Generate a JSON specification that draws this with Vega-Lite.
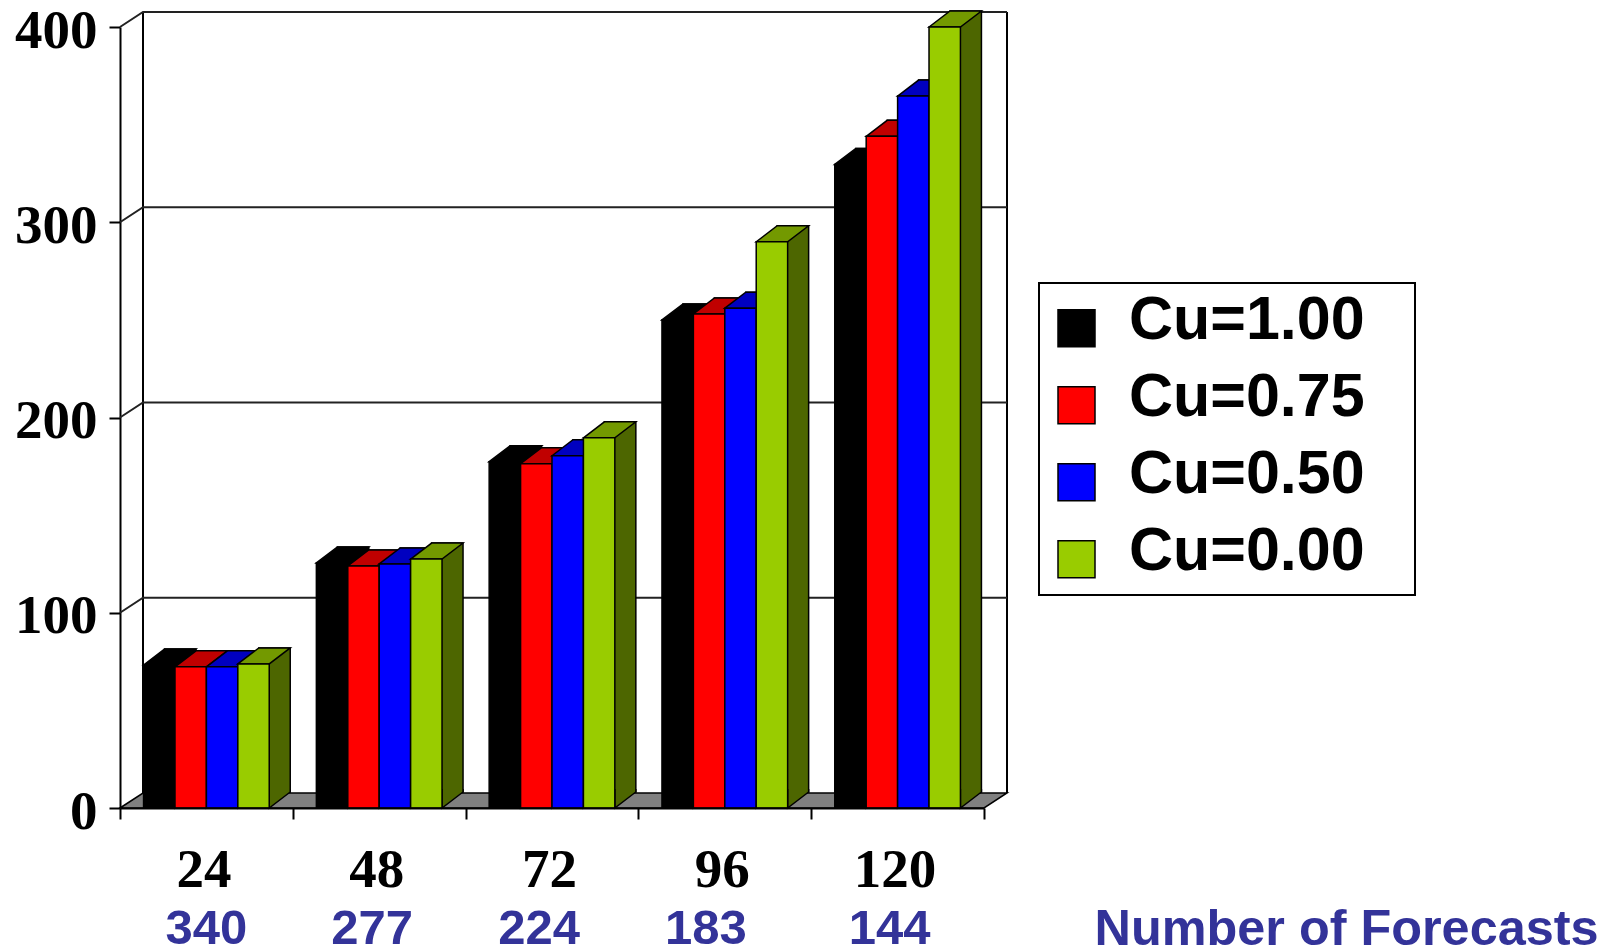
{
  "$schema": "https://vega.github.io/schema/vega-lite/v6.json",
  "width": 864,
  "height": 781,
  "autosize": "none",
  "padding": {"left": 120, "top": 27, "right": 624, "bottom": 142},
  "background": "white",
  "datasets": {
    "bars": [
      {"lead": 24, "cu": "Cu=1.00", "value": 73.2},
      {"lead": 24, "cu": "Cu=0.75", "value": 72.3},
      {"lead": 24, "cu": "Cu=0.50", "value": 72.3},
      {"lead": 24, "cu": "Cu=0.00", "value": 73.8},
      {"lead": 48, "cu": "Cu=1.00", "value": 125.5},
      {"lead": 48, "cu": "Cu=0.75", "value": 124},
      {"lead": 48, "cu": "Cu=0.50", "value": 125},
      {"lead": 48, "cu": "Cu=0.00", "value": 127.5},
      {"lead": 72, "cu": "Cu=1.00", "value": 177.4},
      {"lead": 72, "cu": "Cu=0.75", "value": 176.3},
      {"lead": 72, "cu": "Cu=0.50", "value": 180.4},
      {"lead": 72, "cu": "Cu=0.00", "value": 189.6},
      {"lead": 96, "cu": "Cu=1.00", "value": 250},
      {"lead": 96, "cu": "Cu=0.75", "value": 253},
      {"lead": 96, "cu": "Cu=0.50", "value": 256},
      {"lead": 96, "cu": "Cu=0.00", "value": 290},
      {"lead": 120, "cu": "Cu=1.00", "value": 329.6},
      {"lead": 120, "cu": "Cu=0.75", "value": 344},
      {"lead": 120, "cu": "Cu=0.50", "value": 364.6},
      {"lead": 120, "cu": "Cu=0.00", "value": 400}
    ],
    "forecasts": [
      {"lead": 24, "count": "340"},
      {"lead": 48, "count": "277"},
      {"lead": 72, "count": "224"},
      {"lead": 96, "count": "183"},
      {"lead": 120, "count": "144"}
    ],
    "levels": [
      {"level": 100},
      {"level": 200},
      {"level": 300},
      {"level": 400}
    ]
  },
  "resolve": {"scale": {"fill": "independent", "xOffset": "independent"}},
  "layer": [
    {
      "description": "Grey floor of the box",
      "data": {"values": [{"level": 0}]},
      "mark": {"type": "point", "shape": "M0,0 L23,-15 L887,-15 L864,0 Z", "size": 4, "filled": true, "fill": "#808080", "stroke": "black", "strokeWidth": 1.5, "opacity": 1},
      "encoding": {
        "x": {"datum": 24, "type": "ordinal", "bandPosition": 0, "title": "Number of Forecasts", "scale": {"padding": 0}},
        "y": {"field": "level", "type": "quantitative", "title": null, "scale": {"domain": [0, 400], "nice": false}}
      }
    },
    {
      "description": "Back wall uprights",
      "data": {"values": [{"level": 0}]},
      "mark": {"type": "point", "shape": "M23,-15 L23,-796 M887,-796 L887,-15", "size": 4, "filled": false, "stroke": "black", "strokeWidth": 2, "opacity": 1},
      "encoding": {
        "x": {"datum": 24, "type": "ordinal", "bandPosition": 0, "title": "Number of Forecasts", "scale": {"padding": 0}},
        "y": {"field": "level", "type": "quantitative", "title": null, "scale": {"domain": [0, 400], "nice": false}}
      }
    },
    {
      "description": "Frame around the legend",
      "data": {"values": [{"level": 0}]},
      "mark": {"type": "point", "shape": "M919,-525 L1295,-525 L1295,-213 L919,-213 Z", "size": 4, "filled": false, "stroke": "black", "strokeWidth": 2, "opacity": 1},
      "encoding": {
        "x": {"datum": 24, "type": "ordinal", "bandPosition": 0, "title": "Number of Forecasts", "scale": {"padding": 0}},
        "y": {"field": "level", "type": "quantitative", "title": null, "scale": {"domain": [0, 400], "nice": false}}
      }
    },
    {
      "description": "Gridlines climbing the side wall and crossing the back wall",
      "data": {"name": "levels"},
      "mark": {"type": "point", "shape": "M0,0 L23,-15 L887,-15", "size": 4, "filled": false, "stroke": "#222222", "strokeWidth": 2, "opacity": 1},
      "encoding": {
        "x": {"datum": 24, "type": "ordinal", "bandPosition": 0, "title": "Number of Forecasts", "scale": {"padding": 0}},
        "y": {"field": "level", "type": "quantitative", "title": null, "scale": {"domain": [0, 400], "nice": false}}
      }
    },
    {
      "description": "Right-hand faces of the bars, shifted back in depth",
      "data": {"name": "bars"},
      "mark": {"type": "bar", "stroke": "black", "strokeWidth": 1.5, "yOffset": -16, "y2Offset": -16},
      "encoding": {
        "x": {"field": "lead", "type": "ordinal", "title": "Number of Forecasts", "scale": {"padding": 0}},
        "xOffset": {"field": "cu", "type": "nominal", "sort": null, "scale": {"type": "band", "domain": ["Cu=1.00", "Cu=0.75", "Cu=0.50", "Cu=0.00"], "range": [21, 193.8], "paddingInner": 0, "paddingOuter": 0.75}},
        "y": {"field": "value", "type": "quantitative", "title": null, "scale": {"domain": [0, 400], "nice": false}},
        "fill": {"field": "cu", "type": "nominal", "legend": null, "scale": {"domain": ["Cu=1.00", "Cu=0.75", "Cu=0.50", "Cu=0.00"], "range": ["#000000", "#800000", "#000080", "#4d6600"]}}
      }
    },
    {
      "description": "Slanted foot of the right-hand faces",
      "data": {"name": "bars"},
      "mark": {"type": "point", "shape": "M36.7,-19 L36.7,-16 L15.7,0 L15.7,-19", "size": 4, "filled": true, "stroke": "black", "strokeWidth": 1.5, "opacity": 1},
      "encoding": {
        "x": {"field": "lead", "type": "ordinal", "title": "Number of Forecasts", "scale": {"padding": 0}},
        "xOffset": {"field": "cu", "type": "nominal", "sort": null, "scale": {"type": "band", "domain": ["Cu=1.00", "Cu=0.75", "Cu=0.50", "Cu=0.00"], "paddingInner": 0, "paddingOuter": 0.75}},
        "y": {"datum": 0, "type": "quantitative", "title": null, "scale": {"domain": [0, 400], "nice": false}},
        "fill": {"field": "cu", "type": "nominal", "legend": null, "scale": {"domain": ["Cu=1.00", "Cu=0.75", "Cu=0.50", "Cu=0.00"], "range": ["#000000", "#800000", "#000080", "#4d6600"]}}
      }
    },
    {
      "description": "Top faces of the bars",
      "data": {"name": "bars"},
      "mark": {"type": "point", "shape": "M-15.7,0 L5.3,-16 L36.7,-16 L15.7,0 Z", "size": 4, "filled": true, "stroke": "black", "strokeWidth": 1.5, "opacity": 1},
      "encoding": {
        "x": {"field": "lead", "type": "ordinal", "title": "Number of Forecasts", "scale": {"padding": 0}},
        "xOffset": {"field": "cu", "type": "nominal", "sort": null, "scale": {"type": "band", "domain": ["Cu=1.00", "Cu=0.75", "Cu=0.50", "Cu=0.00"], "paddingInner": 0, "paddingOuter": 0.75}},
        "y": {"field": "value", "type": "quantitative", "title": null, "scale": {"domain": [0, 400], "nice": false}},
        "fill": {"field": "cu", "type": "nominal", "legend": null, "scale": {"domain": ["Cu=1.00", "Cu=0.75", "Cu=0.50", "Cu=0.00"], "range": ["#000000", "#c00000", "#0000c0", "#739900"]}}
      }
    },
    {
      "description": "Front faces of the bars, carrying the axes and the legend",
      "data": {"name": "bars"},
      "mark": {"type": "bar", "stroke": "black", "strokeWidth": 1.5},
      "encoding": {
        "x": {
          "field": "lead",
          "type": "ordinal",
          "title": "Number of Forecasts",
          "scale": {"padding": 0},
          "axis": {
            "tickBand": "extent",
            "labelAngle": 0,
            "labelAlign": "center",
            "labelFont": "Liberation Serif",
            "labelFontWeight": "bold",
            "labelFontSize": 55,
            "labelColor": "black",
            "labelBaseline": "alphabetic",
            "labelPadding": 67,
            "labelOffset": -3,
            "tickSize": 11,
            "tickColor": "black",
            "tickWidth": 2,
            "domainColor": "black",
            "domainWidth": 2,
            "zindex": 1,
            "titleFont": "Liberation Sans",
            "titleFontWeight": "bold",
            "titleFontSize": 50.4,
            "titleColor": "#333399",
            "titleAlign": "left",
            "titleBaseline": "alphabetic",
            "titleX": 974,
            "titleY": 136
          }
        },
        "xOffset": {"field": "cu", "type": "nominal", "sort": null, "scale": {"type": "band", "domain": ["Cu=1.00", "Cu=0.75", "Cu=0.50", "Cu=0.00"], "paddingInner": 0, "paddingOuter": 0.75}},
        "y": {
          "field": "value",
          "type": "quantitative",
          "title": null,
          "scale": {"domain": [0, 400], "nice": false},
          "axis": {
            "values": [0, 100, 200, 300, 400],
            "grid": false,
            "labelFont": "Liberation Serif",
            "labelFontWeight": "bold",
            "labelFontSize": 55,
            "labelColor": "black",
            "labelPadding": 12,
            "labelOffset": 3,
            "tickSize": 11,
            "tickColor": "black",
            "tickWidth": 2,
            "domainColor": "black",
            "domainWidth": 2
          }
        },
        "fill": {
          "field": "cu",
          "type": "nominal",
          "scale": {"domain": ["Cu=1.00", "Cu=0.75", "Cu=0.50", "Cu=0.00"], "range": ["#000000", "#ff0000", "#0000ff", "#99cc00"]},
          "legend": {
            "title": null,
            "orient": "none",
            "legendX": 919,
            "legendY": 256,
            "padding": 7,
            "symbolType": "M-1,-0.58 L1,-0.58 L1,1.42 L-1,1.42 Z",
            "symbolSize": 1369,
            "symbolStrokeColor": "black",
            "symbolStrokeWidth": 1.5,
            "labelFont": "Liberation Sans",
            "labelFontWeight": "bold",
            "labelFontSize": 61,
            "labelColor": "black",
            "labelLimit": 500,
            "labelOffset": 22,
            "rowPadding": 15
          }
        }
      }
    },
    {
      "description": "Forecast counts under the lead times",
      "data": {"name": "forecasts"},
      "mark": {
        "type": "text",
        "font": "Liberation Sans",
        "fontWeight": "bold",
        "fontSize": 49,
        "fill": "#333399",
        "baseline": "alphabetic",
        "yOffset": 136,
        "xOffset": {"expr": "datum.lead == 48 ? -7 : datum.lead == 72 ? -13 : datum.lead == 96 ? -19 : datum.lead == 120 ? -8 : 0"}
      },
      "encoding": {
        "x": {"field": "lead", "type": "ordinal", "title": "Number of Forecasts", "scale": {"padding": 0}},
        "y": {"datum": 0, "type": "quantitative", "title": null, "scale": {"domain": [0, 400], "nice": false}},
        "text": {"field": "count"}
      }
    }
  ],
  "config": {"view": {"stroke": null}}
}
